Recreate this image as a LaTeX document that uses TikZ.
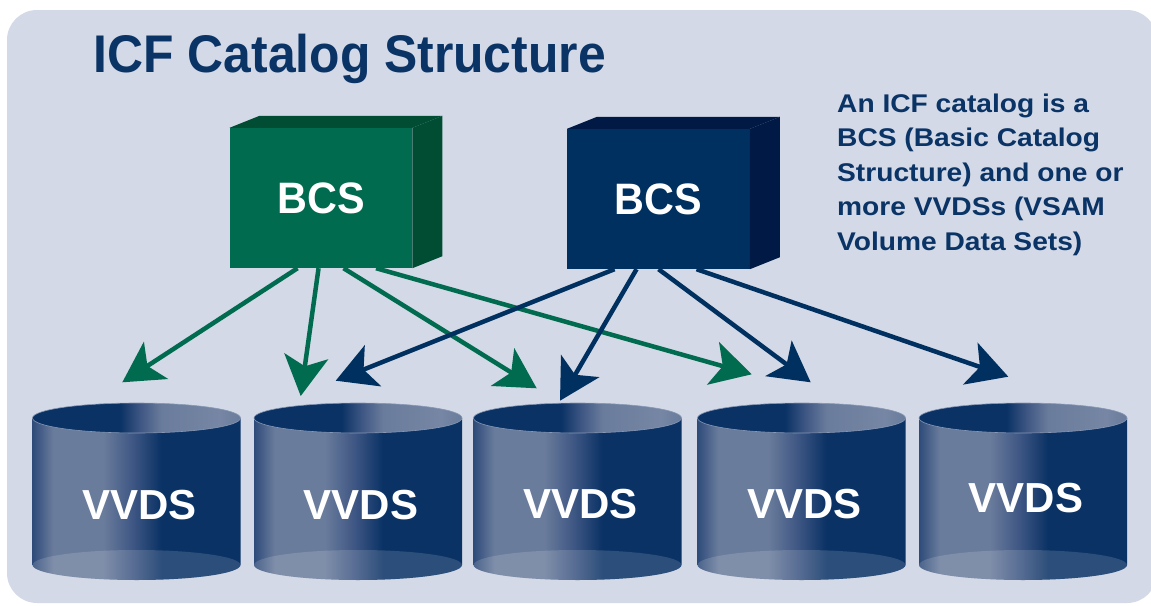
\documentclass[tikz,border=0pt]{standalone}
\usepackage{fontspec}
\setmainfont{Liberation Sans}
\newfontfamily\titlefont{Liberation Sans}[FakeStretch=0.94]
\newfontfamily\descfont{Liberation Sans}[FakeStretch=1.1]
\newfontfamily\boxfont{Liberation Sans}[FakeStretch=0.94]
\usetikzlibrary{arrows.meta,calc}
\definecolor{bg}{HTML}{D3D9E6}
\definecolor{navy}{HTML}{0A3366}
\definecolor{gfront}{HTML}{006B4F}
\definecolor{gdark}{HTML}{004D34}
\definecolor{bfront}{HTML}{00305F}
\definecolor{bdark}{HTML}{001A45}
\definecolor{cdk}{HTML}{0A3265}
\definecolor{clt}{HTML}{6A7C9C}
\definecolor{clt2}{HTML}{7686A4}
\definecolor{cmd}{HTML}{3F5784}
\definecolor{cedge}{HTML}{2E4B7A}
\definecolor{crim}{HTML}{8797B4}
\pgfdeclarehorizontalshading{cylbody}{100bp}{color(0bp)=(cedge); color(25bp)=(cedge); color(30bp)=(clt); color(42bp)=(clt); color(49bp)=(cmd); color(56bp)=(cdk); color(75bp)=(cdk); color(100bp)=(cdk)}
\pgfdeclarehorizontalshading{cyltop}{100bp}{color(0bp)=(cdk); color(25bp)=(cdk); color(46bp)=(cdk); color(51bp)=(cmd); color(56bp)=(clt); color(70bp)=(clt2); color(75bp)=(clt); color(100bp)=(clt)}
\tikzset{
  garrow/.style={draw=gfront, line width=4.5pt, -{Stealth[length=40pt, width=44pt, inset=10pt]}},
  barrow/.style={draw=bfront, line width=4.5pt, -{Stealth[length=40pt, width=44pt, inset=10pt]}},
  boxface/.style={minimum width=182.5pt, minimum height=140pt, inner sep=0pt, text=white,
    font=\boxfont\bfseries\fontsize{44}{50}\selectfont},
  vvdstext/.style={inner sep=0pt, text=white, font=\bfseries\fontsize{42}{50}\selectfont},
}
\begin{document}
\begin{tikzpicture}[x=1pt,y=-1pt]
\useasboundingbox (0,0) rectangle (1151,605);
% background panel
\fill[bg, rounded corners=30pt] (7,10) rectangle (1157,603);

% title and description
\node[anchor=base west, inner sep=0pt, text=navy,
      font=\titlefont\bfseries\fontsize{53}{60}\selectfont] (title) at (93.5,72.3) {ICF Catalog Structure};
\node[anchor=north west, inner sep=0pt, text=navy, align=left,
      font=\descfont\bfseries\fontsize{25.6}{34.6}\selectfont] (desc) at (837,93.4)
  {An ICF catalog is a\\BCS (Basic Catalog\\Structure) and one or\\more VVDSs (VSAM\\Volume Data Sets)};

% BCS boxes
\node[boxface, fill=gfront] (bcsg) at (321,198) {BCS};
\fill[gdark] (bcsg.north west) -- ++(30,-12) -- ([shift={(30,-12)}]bcsg.north east) -- (bcsg.north east) -- cycle;
\fill[gdark] (bcsg.north east) -- ++(30,-12) -- ([shift={(30,-12)}]bcsg.south east) -- (bcsg.south east) -- cycle;

\node[boxface, fill=bfront] (bcsb) at (658.5,199) {BCS};
\fill[bdark] (bcsb.north west) -- ++(30,-12) -- ([shift={(30,-12)}]bcsb.north east) -- (bcsb.north east) -- cycle;
\fill[bdark] (bcsb.north east) -- ++(30,-12) -- ([shift={(30,-12)}]bcsb.south east) -- (bcsb.south east) -- cycle;

% VVDS cylinders
\foreach \i/\xl/\ty in {1/32.5/505, 2/254/505, 3/473.5/504, 4/697.5/504, 5/919/498} {
  \path[shading=cylbody] (\xl,418) -- (\xl,565) arc[start angle=180, end angle=0, x radius=104, y radius=15] -- (\xl+208,418) -- cycle;
  \fill[white, fill opacity=0.14] (\xl+104,565) ellipse[x radius=104, y radius=15];
  \path[shading=cyltop] (\xl+104,418) ellipse[x radius=104, y radius=15];
  \draw[crim, line width=0.6pt] (\xl+104,418) ellipse[x radius=104, y radius=15];
  \node[vvdstext] (v\i) at (\xl+107,\ty) {VVDS};
}

% arrow start points on the boxes and free tips above the cylinders
\coordinate (gs1) at ($(bcsg.south west)+(68,0)$);
\coordinate (gs2) at ($(bcsg.south west)+(89,0)$);
\coordinate (gs3) at ($(bcsg.south west)+(114,0)$);
\coordinate (gs4) at ($(bcsg.south west)+(146.5,0)$);
\coordinate (bs1) at ($(bcsb.south west)+(47.5,0)$);
\coordinate (bs2) at ($(bcsb.south west)+(69.5,0)$);
\coordinate (bs3) at ($(bcsb.south west)+(91.5,0)$);
\coordinate (bs4) at ($(bcsb.south west)+(129.5,0)$);
\coordinate (gt1) at (122.3,382.3);
\coordinate (gt2) at (300.7,396);
\coordinate (gt3) at (536.7,388.3);
\coordinate (gt4) at (751.7,374.3);
\coordinate (bt1) at (335.7,380.7);
\coordinate (bt2) at (560,400.7);
\coordinate (bt3) at (810.7,382.3);
\coordinate (bt4) at (1008.3,376.7);

\draw[garrow] (gs1) -- (gt1);
\draw[garrow] (gs2) -- (gt2);
\draw[garrow] (gs3) -- (gt3);
\draw[garrow] (gs4) -- (gt4);
\draw[barrow] (bs1) -- (bt1);
\draw[barrow] (bs2) -- (bt2);
\draw[barrow] (bs3) -- (bt3);
\draw[barrow] (bs4) -- (bt4);
\end{tikzpicture}
\end{document}
